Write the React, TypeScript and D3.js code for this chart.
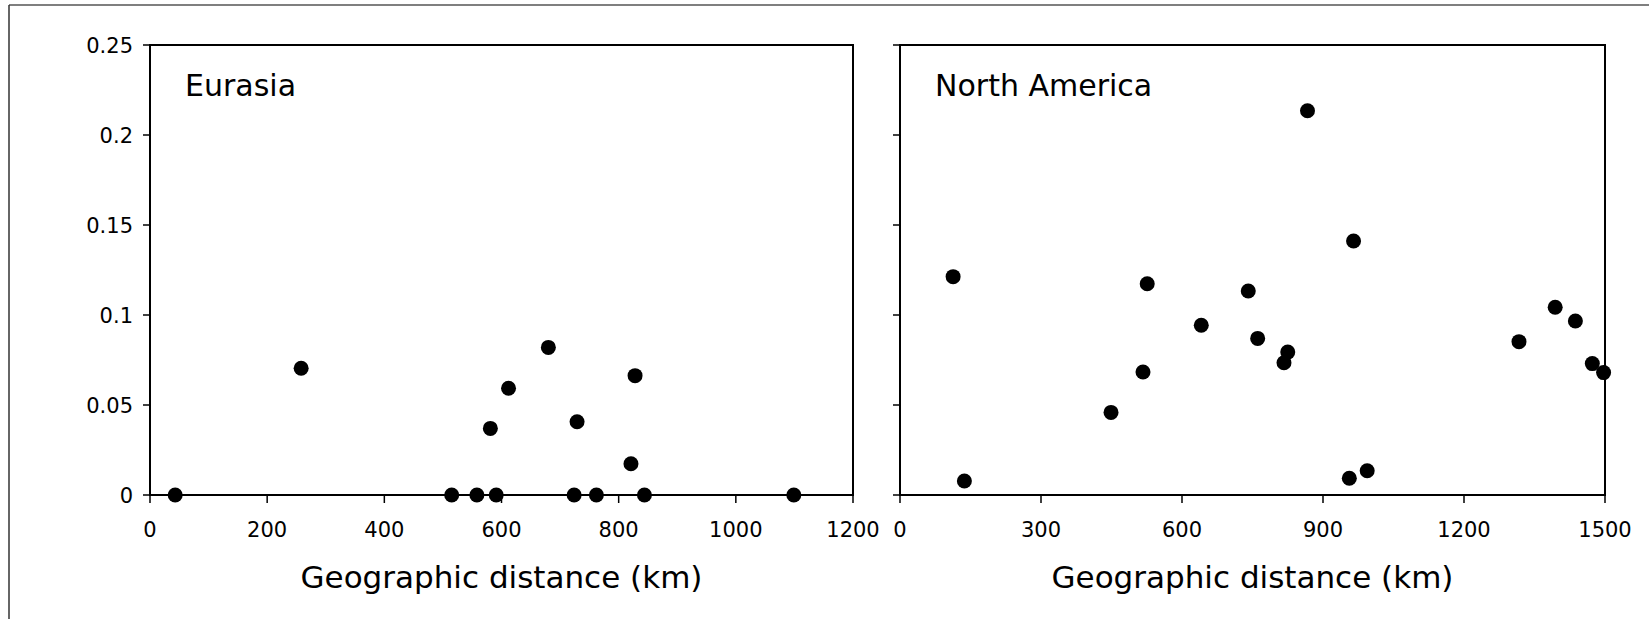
import React from "react";
import * as d3 from "d3";

// Eurasia panel: geographic distance (km) vs value
const eurasiaKm = [43, 258, 515, 558, 591, 724, 762, 844, 1099, 581, 612, 680, 729, 828, 821];
const eurasiaVal = [0, 0.0704, 0, 0, 0, 0, 0, 0, 0, 0.037, 0.0593, 0.082, 0.0407, 0.0663, 0.0174];

// North America panel
const naKm = [113, 137, 449, 517, 526, 641, 741, 761, 817, 825, 956, 994, 1317, 1394, 1437, 1473, 1497, 867, 965];
const naVal = [0.1213, 0.0078, 0.0459, 0.0683, 0.1174, 0.0943, 0.1133, 0.087, 0.0735, 0.0794, 0.0093, 0.0135, 0.0852, 0.1043, 0.0967, 0.073, 0.068, 0.2135, 0.1411];

const yTicks = [0, 0.05, 0.1, 0.15, 0.2, 0.25];
const eurasiaXTicks = [0, 200, 400, 600, 800, 1000, 1200];
const naXTicks = [0, 300, 600, 900, 1200, 1500];

const W = 1649;
const H = 619;
const top = 45;
const bottom = 495;
const font = "'DejaVu Sans', Verdana, sans-serif";

type PanelProps = {
  x0: number;
  x1: number;
  xMax: number;
  xTicks: number[];
  km: number[];
  vals: number[];
  title: string;
  showYLabels: boolean;
};

const Panel = ({ x0, x1, xMax, xTicks, km, vals, title, showYLabels }: PanelProps) => {
  const x = d3.scaleLinear().domain([0, xMax]).range([x0, x1]);
  const y = d3.scaleLinear().domain([0, 0.25]).range([bottom, top]);

  return (
    <g>
      {/* plot box */}
      <rect x={x0} y={top} width={x1 - x0} height={bottom - top} fill="none" stroke="#000" strokeWidth={2} />

      {/* y ticks */}
      {yTicks.map((t) => (
        <g key={"y" + t}>
          <line x1={x0 - 7} x2={x0} y1={y(t)} y2={y(t)} stroke="#000" strokeWidth={1.5} />
          {showYLabels && (
            <text x={x0 - 17} y={y(t)} dy="0.36em" textAnchor="end" fontSize={21} fontFamily={font}>
              {String(t)}
            </text>
          )}
        </g>
      ))}

      {/* x ticks */}
      {xTicks.map((t) => (
        <g key={"x" + t}>
          <line x1={x(t)} x2={x(t)} y1={bottom} y2={bottom + 8} stroke="#000" strokeWidth={1.5} />
          <text x={x(t)} y={529} dy="0.36em" textAnchor="middle" fontSize={21} fontFamily={font}>
            {t}
          </text>
        </g>
      ))}

      {/* points */}
      {km.map((d, i) => (
        <circle key={i} cx={x(d)} cy={y(vals[i])} r={7.5} fill="#000" />
      ))}

      <text x={x0 + 35} y={96} fontSize={30} fontFamily={font}>
        {title}
      </text>
      <text x={(x0 + x1) / 2} y={588} textAnchor="middle" fontSize={31} fontFamily={font}>
        Geographic distance (km)
      </text>
    </g>
  );
};

export default function App() {
  return (
    <svg width={W} height={H} style={{ position: "absolute", left: 0, top: 0, background: "#fff" }}>
      {/* outer frame */}
      <line x1={9} x2={W} y1={5} y2={5} stroke="#555" strokeWidth={1.5} />
      <line x1={9} x2={9} y1={5} y2={H} stroke="#333" strokeWidth={1.5} />

      <Panel x0={150} x1={853} xMax={1200} xTicks={eurasiaXTicks} km={eurasiaKm} vals={eurasiaVal} title="Eurasia" showYLabels={true} />
      <Panel x0={900} x1={1605} xMax={1500} xTicks={naXTicks} km={naKm} vals={naVal} title="North America" showYLabels={false} />
    </svg>
  );
}
